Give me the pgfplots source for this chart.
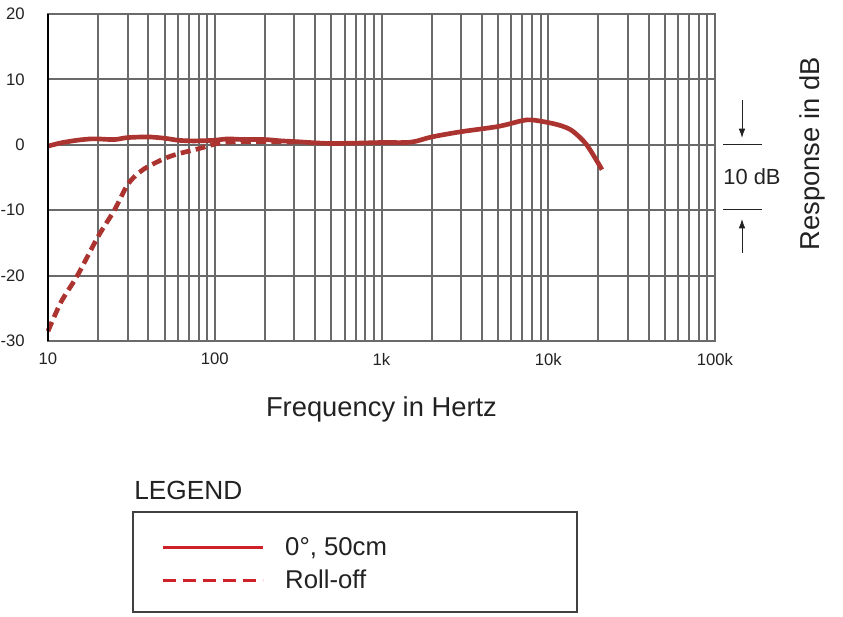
\documentclass[border=0pt]{standalone}
\usepackage{pgfplots}
\pgfplotsset{compat=1.18}
\usepackage{fontspec}
\setmainfont{Liberation Sans}
\usetikzlibrary{arrows.meta}
\definecolor{curve}{HTML}{AC3430}
\definecolor{legred}{HTML}{D0202A}
\definecolor{gridgray}{HTML}{6A6A6A}
\definecolor{txt}{HTML}{222222}
\begin{document}
\begin{tikzpicture}[x=0.75pt,y=0.75pt]
\useasboundingbox (0,0) rectangle (843,617);
\begin{axis}[
  at={(36pt,207pt)}, anchor=south west,
  scale only axis, width=500.25pt, height=245.25pt,
  xmode=log, log basis x=10,
  xmin=10, xmax=100000, ymin=-30, ymax=20,
  xtick={10,100,1000,10000,100000},
  xticklabels={10,100,1k,10k,100k},
  minor xtick={20,30,40,50,60,70,80,90,200,300,400,500,600,700,800,900,2000,3000,4000,5000,6000,7000,8000,9000,20000,30000,40000,50000,60000,70000,80000,90000},
  ytick={-30,-20,-10,0,10,20},
  grid=both,
  major grid style={gridgray, line width=1.5pt},
  minor grid style={gridgray, line width=1.5pt},
  axis line style={gridgray, line width=1.5pt},
  major tick length=0pt, minor tick length=0pt,
  /pgf/number format/assume math mode=true,
  ticklabel style={font=\fontsize{12.5}{14}\selectfont, text=txt, inner sep=0pt},
  xticklabel style={anchor=north}, xticklabel shift=9pt,
  yticklabel style={anchor=east}, yticklabel shift=17.25pt,
  xlabel={Frequency in Hertz}, ylabel={Response in dB},
  label style={font=\fontsize{20.5}{24}\selectfont, text=txt},
  xlabel style={at={(axis description cs:0.5,-0.208)}, anchor=center},
  ylabel style={at={(axis description cs:1.1454,0.572)}, anchor=center},
  clip=false,
  legend style={at={(axis description cs:0.1694,-0.599)}, anchor=north west,
    draw=none, fill=none, inner sep=0pt, row sep=6.75pt,
    font=\fontsize{19.3}{23}\selectfont, text=txt,
    nodes={inner sep=0pt, text height=14pt, text depth=4pt},
    /tikz/every odd column/.append style={column sep=15.75pt}},
  legend cell align=left,
  legend image code/.code={\draw[#1] (0pt,1.5pt) -- (75pt,1.5pt);},
]
\addplot[curve, line width=3.5pt, dash pattern=on 7.5pt off 4pt, smooth, forget plot] coordinates {
(10,-28.5) (12,-24) (15,-20) (20,-14) (25,-10) (30,-6.1) (35,-4.3) (40,-3.3) (50,-2.1) (60,-1.4) (80,-0.6) (100,0.1) (120,0.4) (150,0.5) (200,0.5) (300,0.4)
};
\addplot[curve, line width=3.5pt, smooth, forget plot] coordinates {
(10,-0.2) (12,0.3) (15,0.7) (18,0.9) (20,0.9) (25,0.8) (30,1.1) (40,1.2) (50,1.0) (60,0.7) (70,0.6) (80,0.6) (100,0.7) (120,0.9) (150,0.8) (200,0.8) (250,0.6) (300,0.5) (400,0.3) (500,0.2) (700,0.25) (1000,0.35) (1500,0.4) (2000,1.2) (3000,2.0) (5000,2.8) (7000,3.7) (8000,3.8) (10000,3.4) (12000,2.9) (14000,2.1) (17000,0) (21000,-3.8)
};
\draw[black, line width=1.8pt] (rel axis cs:0,0) -- (rel axis cs:0,1);
\addlegendimage{legred, line width=2.2pt}
\addlegendentry{0°, 50cm}
\addlegendimage{legred, line width=2.2pt, dash pattern=on 9.75pt off 5.25pt}
\addlegendentry{Roll-off}
\end{axis}
\draw[txt, line width=0.75pt] (723,472) -- (762,472);
\draw[txt, line width=0.75pt] (723,407) -- (762,407);
\draw[txt, line width=0.75pt, -{Latex[length=7pt,width=5pt]}] (742,517) -- (742,479);
\draw[txt, line width=0.75pt, -{Latex[length=7pt,width=5pt]}] (742,364) -- (742,398);
\node[font=\fontsize{16.4}{19}\selectfont, text=txt] at (752,440) {10 dB};
\node[anchor=base west, font=\fontsize{19.7}{23}\selectfont, text=txt, inner sep=0pt] at (134,117) {LEGEND};
\draw[black!75, line width=1pt] (133,105) rectangle (577,5);
\end{tikzpicture}
\end{document}
